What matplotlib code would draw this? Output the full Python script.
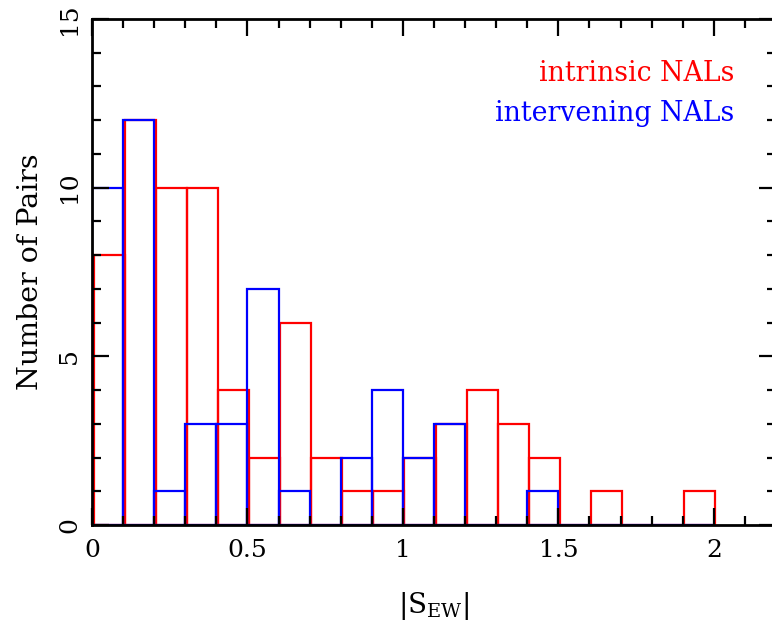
import numpy as np
import matplotlib.pyplot as plt
import matplotlib.transforms as mtransforms
from matplotlib.ticker import MultipleLocator

# counts per 0.1-wide bin of |S_EW|, starting at 0
bin_edges = np.round(np.arange(0, 2.01, 0.1), 2)
intrinsic = [8, 12, 10, 10, 4, 2, 6, 2, 1, 1, 2, 3, 4, 3, 2, 0, 1, 0, 0, 1]
intervening = [10, 12, 1, 3, 3, 7, 1, 0, 2, 4, 2, 3, 0, 0, 1, 0, 0, 0, 0, 0]

plt.rcParams['font.family'] = ['DejaVu Serif']
plt.rcParams['mathtext.fontset'] = 'dejavuserif'

W, H = 772, 631
fig = plt.figure(figsize=(W / 100, H / 100), dpi=100)
ax = fig.add_axes([92 / W, 106 / H, 684 / W, 506 / H])

left = bin_edges[:-1]
width = np.diff(bin_edges)

# red outlines sit a hair to the right of the blue ones
shift = mtransforms.ScaledTranslation(1.5 / 100, 0, fig.dpi_scale_trans)
ax.bar(left, intrinsic, width=width, align='edge', fill=False,
       edgecolor='#ff0000', linewidth=1.6, transform=ax.transData + shift)
ax.bar(left, intervening, width=width, align='edge', fill=False,
       edgecolor='#0000ff', linewidth=1.6)

ax.set_xlim(0, 2.2)
ax.set_ylim(0, 15)
ax.xaxis.set_major_locator(MultipleLocator(0.5))
ax.xaxis.set_minor_locator(MultipleLocator(0.1))
ax.yaxis.set_major_locator(MultipleLocator(5))
ax.yaxis.set_minor_locator(MultipleLocator(1))
ax.set_xticks([0, 0.5, 1, 1.5, 2])
ax.set_xticklabels(['0', '0.5', '1', '1.5', '2'])
ax.tick_params(which='both', direction='in', top=True, right=True,
               width=1.6, labelsize=18)
ax.tick_params(which='major', length=12)
ax.tick_params(which='minor', length=6.5)
ax.tick_params(axis='x', pad=10)
ax.tick_params(axis='y', pad=8)
for lab in ax.get_yticklabels():
    lab.set_rotation(90)
    lab.set_va('center')
for sp in ax.spines.values():
    sp.set_linewidth(2)

ax.set_ylabel('Number of Pairs', fontsize=20.5, labelpad=10)
ax.set_xlabel(r'$|\mathrm{S}_{\mathrm{EW}}|$', fontsize=20, labelpad=20)

ax.text(0.939, 0.893, 'intrinsic NALs', color='#ff0000',
        fontsize=19.3, ha='right', va='center', transform=ax.transAxes)
ax.text(0.939, 0.814, 'intervening NALs', color='#0000ff',
        fontsize=19.3, ha='right', va='center', transform=ax.transAxes)

fig.savefig('out.png', dpi=100)
